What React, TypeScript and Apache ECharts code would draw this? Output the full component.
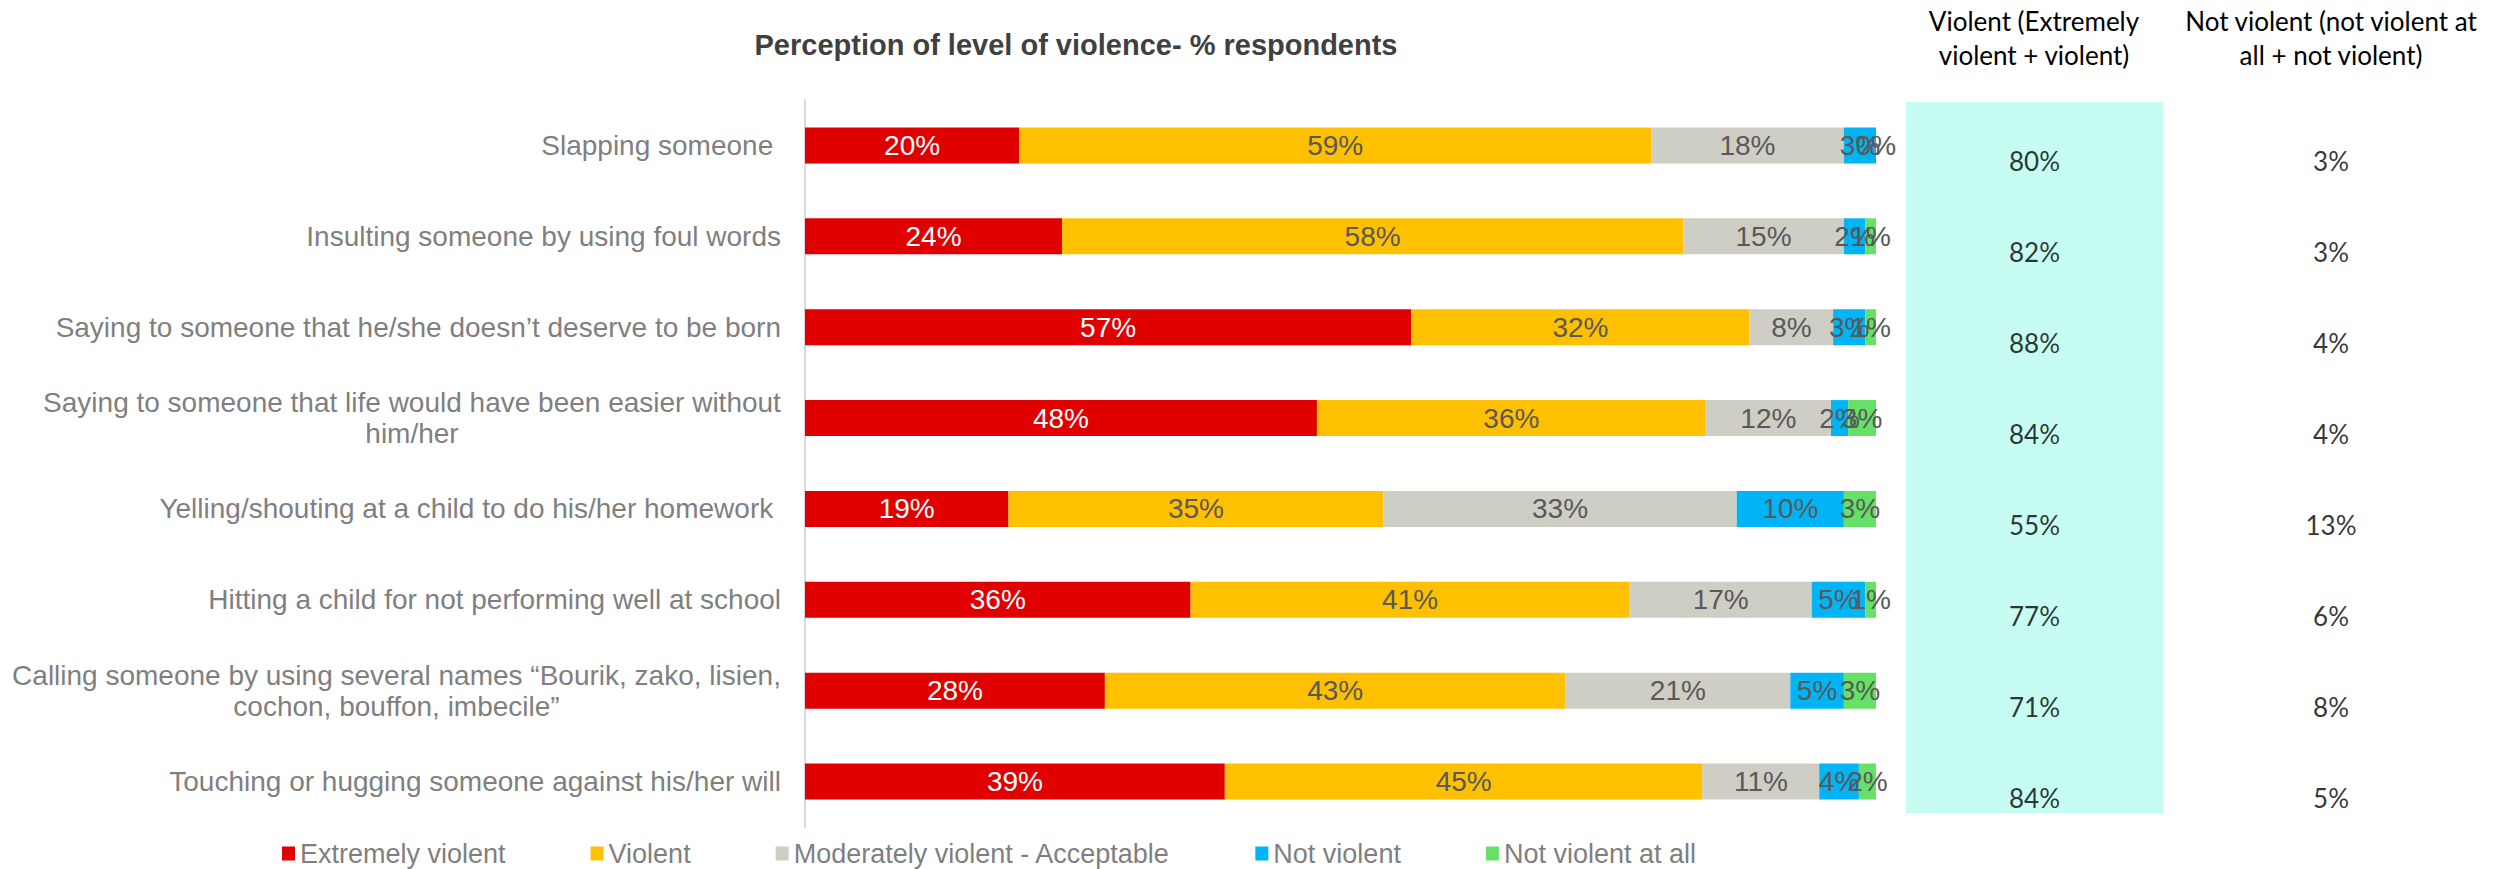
import React, { useEffect, useRef } from "react";
import * as echarts from "echarts";

const categories = [
  "Slapping someone ",
  "Insulting someone by using foul words",
  "Saying to someone that he/she doesn’t deserve to be born",
  "Saying to someone that life would have been easier without\nhim/her",
  "Yelling/shouting at a child to do his/her homework ",
  "Hitting a child for not performing well at school",
  "Calling someone by using several names “Bourik, zako, lisien,\ncochon, bouffon, imbecile”",
  "Touching or hugging someone against his/her will",
];

const seriesNames = [
  "Extremely violent",
  "Violent",
  "Moderately violent - Acceptable",
  "Not violent",
  "Not violent at all",
];

const extremelyViolent = [20, 24, 56.6, 47.8, 19, 36, 28, 39.2];
const violent = [59, 58, 31.6, 36.3, 35, 41, 43, 44.6];
const moderatelyViolent = [18, 15, 7.8, 11.7, 33, 17, 21, 10.9];
const notViolent = [3, 2, 3.0, 1.6, 10, 5, 5, 3.7];
const notViolentAtAll = [0, 1, 1.0, 2.6, 3, 1, 3, 1.6];

const violentTotal = [80, 82, 88, 84, 55, 77, 71, 84];
const notViolentTotal = [3, 3, 4, 4, 13, 6, 8, 5];

const mainTitle = "Perception of level of violence- % respondents";
const header1 = "Violent (Extremely\nviolent + violent)";
const header2 = "Not violent (not violent at\nall + not violent)";

const colors = ["#E00000", "#FFC000", "#CFCEC5", "#00B4F5", "#66E066"];
const labelColors = ["#FFFFFF", "#595959", "#595959", "#595959", "#595959"];

const LABEL_FONT = "Liberation Sans, Arial, sans-serif";
const TABLE_FONT = "Lato, sans-serif";

export default function App() {
  const ref = useRef<HTMLDivElement>(null);

  useEffect(() => {
    document.body.style.margin = "0";
    if (!ref.current) return;
    const chart = echarts.init(ref.current, null, { renderer: "svg" });

    const canvas = document.createElement("canvas");
    const ctx = canvas.getContext("2d")!;
    ctx.font = '28px "Liberation Sans"';
    const measure = (s: string) => ctx.measureText(s).width;

    const rich: any = {};
    categories.forEach((c, i) => {
      if (c.includes("\n")) {
        rich["c" + i] = {
          fontSize: 28,
          color: "#7F7F7F",
          fontFamily: LABEL_FONT,
          lineHeight: 31,
          align: "center",
          width: Math.ceil(Math.max(...c.split("\n").map(measure))),
        };
      }
    });

    const allSeriesData = [
      extremelyViolent,
      violent,
      moderatelyViolent,
      notViolent,
      notViolentAtAll,
    ];

    const barSeries = allSeriesData.map((d, si) => ({
      name: seriesNames[si],
      type: "bar",
      stack: "total",
      xAxisIndex: 0,
      yAxisIndex: 0,
      barWidth: 36,
      data: d,
      itemStyle: { color: colors[si] },
      label: {
        show: true,
        position: "inside",
        formatter: (p: any) => Math.round(p.value) + "%",
        fontSize: 28,
        fontFamily: LABEL_FONT,
        color: labelColors[si],
      },
    }));

    const tableSeries = (vals: number[], idx: number) => ({
      type: "scatter",
      xAxisIndex: idx,
      yAxisIndex: idx,
      symbolSize: 1,
      itemStyle: { color: "rgba(0,0,0,0)" },
      encode: { x: 0, y: 1 },
      data: vals.map((v, i) => [0, i, v]),
      label: {
        show: true,
        position: "inside",
        formatter: (p: any) => p.value[2] + "%",
        fontSize: 26,
        fontFamily: TABLE_FONT,
        color: "#000000",
      },
      silent: true,
    });

    const headerStyle = {
      fontSize: 26,
      lineHeight: 34,
      fontWeight: "normal",
      color: "#000000",
      fontFamily: TABLE_FONT,
    };

    const option: any = {
      animation: false,
      title: [
        {
          text: mainTitle,
          left: 1076,
          top: 30,
          textAlign: "center",
          padding: 0,
          textStyle: {
            fontSize: 29,
            fontWeight: "bold",
            color: "#404040",
            fontFamily: LABEL_FONT,
          },
        },
        {
          text: header1,
          left: 2034,
          top: 4,
          textAlign: "center",
          padding: 0,
          textStyle: headerStyle,
        },
        {
          text: header2,
          left: 2331,
          top: 4,
          textAlign: "center",
          padding: 0,
          textStyle: headerStyle,
        },
      ],
      legend: {
        data: seriesNames,
        left: 282,
        top: 840,
        padding: 0,
        icon: "rect",
        itemWidth: 13,
        itemHeight: 14,
        itemGap: 85,
        textStyle: { fontSize: 27, color: "#7F7F7F", fontFamily: LABEL_FONT },
      },
      graphic: [
        {
          type: "rect",
          z: -10,
          shape: { x: 1906, y: 102, width: 257, height: 711 },
          style: { fill: "#C6FCF1" },
          silent: true,
        },
      ],
      grid: [
        { left: 805, top: 100, width: 1071, height: 727 },
        { left: 1906, top: 116, width: 257, height: 727 },
        { left: 2204, top: 116, width: 254, height: 727 },
      ],
      xAxis: [
        { type: "value", gridIndex: 0, min: 0, max: 100, show: false },
        { type: "value", gridIndex: 1, min: -1, max: 1, show: false },
        { type: "value", gridIndex: 2, min: -1, max: 1, show: false },
      ],
      yAxis: [
        {
          type: "category",
          gridIndex: 0,
          inverse: true,
          data: categories,
          axisLine: { show: true, lineStyle: { color: "#D9D9D9", width: 2 } },
          axisTick: { show: false },
          splitLine: { show: false },
          axisLabel: {
            margin: 24,
            fontSize: 28,
            color: "#7F7F7F",
            fontFamily: LABEL_FONT,
            lineHeight: 31,
            formatter: (v: string, i: number) => {
              if (!v.includes("\n")) return v;
              return v
                .split("\n")
                .map((l) => "{c" + i + "|" + l + "}")
                .join("\n");
            },
            rich,
          },
        },
        {
          type: "category",
          gridIndex: 1,
          inverse: true,
          data: categories,
          show: false,
        },
        {
          type: "category",
          gridIndex: 2,
          inverse: true,
          data: categories,
          show: false,
        },
      ],
      series: [
        ...barSeries,
        tableSeries(violentTotal, 1),
        tableSeries(notViolentTotal, 2),
      ],
    };

    chart.setOption(option);
    return () => chart.dispose();
  }, []);

  return <div ref={ref} style={{ width: 2499, height: 869 }} />;
}
